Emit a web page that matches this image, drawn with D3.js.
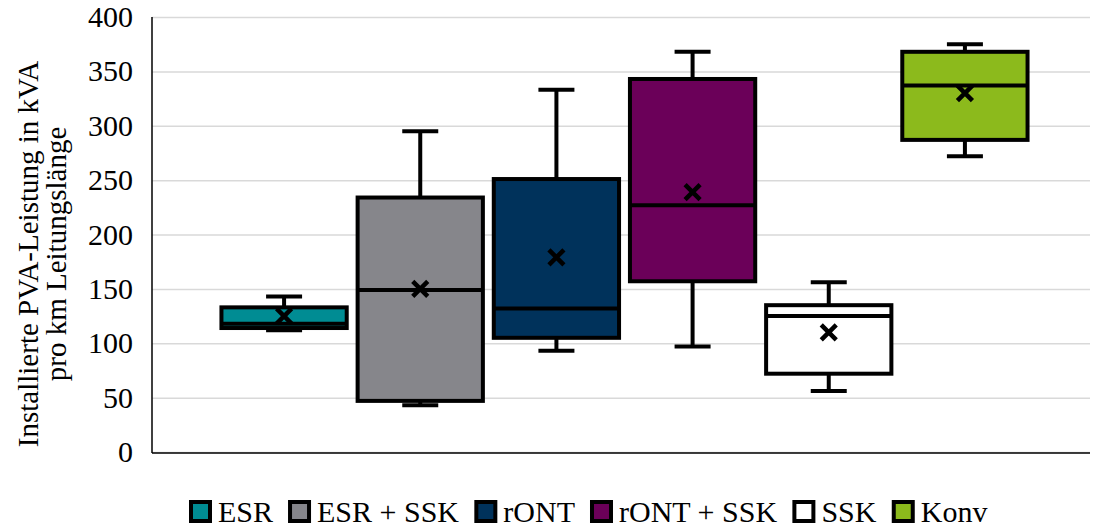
<!DOCTYPE html>
<html>
<head>
<meta charset="utf-8">
<script src="https://cdn.jsdelivr.net/npm/d3@7"></script>
<style>
  html, body { margin: 0; padding: 0; background: #fff; }
  svg { display: block; font-family: "Liberation Serif", "Times New Roman", serif; }
</style>
</head>
<body>
<svg id="chart" width="1098" height="529"></svg>
<script>
// Box plot statistics per network variant (kVA per km line length)
const categories = ["ESR", "ESR + SSK", "rONT", "rONT + SSK", "SSK", "Konv"];
const mins    = [112,  43,  93,  97,  56, 272];
const q1s     = [114,  47, 105, 157,  72, 287];
const medians = [118, 149, 132, 227, 125, 337];
const q3s     = [133, 234, 251, 343, 135, 368];
const maxs    = [143, 295, 333, 368, 156, 375];
const means   = [125, 150, 179, 239, 110, 330];
const colors  = ["#008C93", "#86868B", "#00325B", "#6B0059", "#FFFFFF", "#8CBA1C"];
const yTicks  = [0, 50, 100, 150, 200, 250, 300, 350, 400];

const FONT = "'Liberation Serif', 'Times New Roman', serif";
const svg = d3.select("#chart");
const plot = { left: 152, right: 1090, top: 17, bottom: 452 };

const y = d3.scaleLinear().domain([0, 400]).range([plot.bottom, plot.top]);
const x = d3.scaleBand().domain(categories).range([216, 1033])
  .paddingInner(0.08).paddingOuter(0.04);

// Horizontal gridlines
svg.append("g")
  .attr("transform", `translate(${plot.left},0)`)
  .call(d3.axisLeft(y).tickValues(yTicks).tickSize(-(plot.right - plot.left)).tickFormat(""))
  .call(g => g.select(".domain").remove())
  .call(g => g.selectAll("line").attr("stroke", "#d9d9d9").attr("stroke-width", 1.5));

// Y axis labels
svg.append("g")
  .attr("transform", `translate(${plot.left},0)`)
  .call(d3.axisLeft(y).tickValues(yTicks).tickSize(0).tickPadding(19))
  .call(g => g.select(".domain").remove())
  .call(g => g.selectAll("text")
    .attr("font-family", FONT)
    .attr("font-size", 30).attr("fill", "#000"));

// Axis lines
svg.append("line")
  .attr("x1", plot.left).attr("x2", plot.left)
  .attr("y1", plot.top).attr("y2", plot.bottom + 1)
  .attr("stroke", "#000").attr("stroke-width", 1.5);
svg.append("line")
  .attr("x1", plot.left).attr("x2", plot.right)
  .attr("y1", plot.bottom + 1).attr("y2", plot.bottom + 1)
  .attr("stroke", "#000").attr("stroke-width", 1.5);

// Y axis title (two lines)
const title = svg.append("text")
  .attr("transform", `translate(0,254) rotate(-90)`)
  .attr("text-anchor", "middle")
  .attr("font-family", FONT)
  .attr("font-size", 29)
  .attr("fill", "#000");
title.append("tspan").attr("x", 0).attr("y", 38).text("Installierte PVA-Leistung in kVA");
title.append("tspan").attr("x", 0).attr("y", 66).text("pro km Leitungslänge");

// Boxes
const capW = 36, sw = 4;
const data = categories.map((c, i) => ({
  c, min: mins[i], q1: q1s[i], med: medians[i], q3: q3s[i], max: maxs[i], mean: means[i], color: colors[i]
}));

const boxes = svg.append("g").selectAll("g").data(data).join("g");

boxes.each(function(d) {
  const g = d3.select(this);
  const x0 = x(d.c), bw = x.bandwidth(), cx = x0 + bw / 2;
  // whiskers
  g.append("line").attr("x1", cx).attr("x2", cx).attr("y1", y(d.max)).attr("y2", y(d.q3))
    .attr("stroke", "#000").attr("stroke-width", sw);
  g.append("line").attr("x1", cx).attr("x2", cx).attr("y1", y(d.q1)).attr("y2", y(d.min))
    .attr("stroke", "#000").attr("stroke-width", sw);
  // caps
  [d.max, d.min].forEach(v => {
    g.append("line").attr("x1", cx - capW / 2).attr("x2", cx + capW / 2)
      .attr("y1", y(v)).attr("y2", y(v))
      .attr("stroke", "#000").attr("stroke-width", sw);
  });
  // box
  g.append("rect")
    .attr("x", x0).attr("width", bw)
    .attr("y", y(d.q3)).attr("height", y(d.q1) - y(d.q3))
    .attr("fill", d.color).attr("stroke", "#000").attr("stroke-width", sw);
  // median
  g.append("line").attr("x1", x0).attr("x2", x0 + bw)
    .attr("y1", y(d.med)).attr("y2", y(d.med))
    .attr("stroke", "#000").attr("stroke-width", sw);
  // mean marker
  const s = 7.5, my = y(d.mean);
  g.append("path")
    .attr("d", `M${cx - s},${my - s}L${cx + s},${my + s}M${cx - s},${my + s}L${cx + s},${my - s}`)
    .attr("stroke", "#000").attr("stroke-width", 4.5).attr("fill", "none");
});

// Legend
const legend = svg.append("g").attr("font-family", FONT).attr("font-size", 30);
const items = legend.selectAll("g").data(data).join("g");
items.append("rect")
  .attr("x", 2).attr("y", -20).attr("width", 19).attr("height", 19)
  .attr("fill", d => d.color).attr("stroke", "#000").attr("stroke-width", 4);
items.append("text")
  .attr("x", 29).attr("y", 0)
  .attr("fill", "#000")
  .text(d => d.c);
let lx = 0;
const gap = 17;
items.each(function() {
  const w = this.getBBox().width;
  d3.select(this).attr("transform", `translate(${lx},0)`);
  lx += w + gap;
});
legend.attr("transform", `translate(189,522)`);
</script>
</body>
</html>
